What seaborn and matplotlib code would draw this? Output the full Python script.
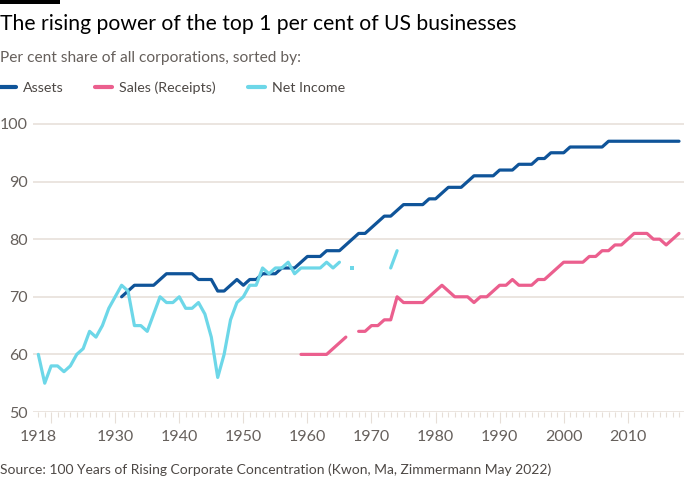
import numpy as np
import pandas as pd
import matplotlib.pyplot as plt
from matplotlib.patches import Rectangle
import seaborn as sns

nan = np.nan

# Years 1918-2018
years = list(range(1918, 2019))

# Per cent share of all corporations held by the top 1 per cent
assets = [nan] * 13 + [
    70, 71, 72, 72, 72, 72, 73, 74, 74, 74,   # 1931-1940
    74, 74, 73, 73, 73, 71, 71, 72, 73, 72,   # 1941-1950
    73, 73, 74, 74, 74, 75, 75, 75, 76, 77,   # 1951-1960
    77, 77, 78, 78, 78, 79, 80, 81, 81, 82,   # 1961-1970
    83, 84, 84, 85, 86, 86, 86, 86, 87, 87,   # 1971-1980
    88, 89, 89, 89, 90, 91, 91, 91, 91, 92,   # 1981-1990
    92, 92, 93, 93, 93, 94, 94, 95, 95, 95,   # 1991-2000
    96, 96, 96, 96, 96, 96, 97, 97, 97, 97,   # 2001-2010
    97, 97, 97, 97, 97, 97, 97, 97,           # 2011-2018
]

sales = [nan] * 41 + [
    60, 60,                                   # 1959-1960
    60, 60, 60, 61, 62, 63, nan, 64, 64, 65,  # 1961-1970
    65, 66, 66, 70, 69, 69, 69, 69, 70, 71,   # 1971-1980
    72, 71, 70, 70, 70, 69, 70, 70, 71, 72,   # 1981-1990
    72, 73, 72, 72, 72, 73, 73, 74, 75, 76,   # 1991-2000
    76, 76, 76, 77, 77, 78, 78, 79, 79, 80,   # 2001-2010
    81, 81, 81, 80, 80, 79, 80, 81,           # 2011-2018
]

net_income = [
    60, 55, 58, 58, 57, 58, 60, 61, 64, 63, 65, 68,   # 1918-1929
    70, 72, 71, 65, 65, 64, 67, 70, 69, 69,           # 1930-1939
    70, 68, 68, 69, 67, 63, 56, 60, 66, 69,           # 1940-1949
    70, 72, 72, 75, 74, 75, 75, 76, 74, 75,           # 1950-1959
    75, 75, 75, 76, 75, 76, nan, 75, nan, nan,        # 1960-1969
    nan, nan, nan, 75, 78,                            # 1970-1974
] + [nan] * 44

series_names = ["Assets", "Sales (Receipts)", "Net Income"]
colors = ["#0f5499", "#eb5f8e", "#6dd7e8"]

title = "The rising power of the top 1 per cent of US businesses"
subtitle = "Per cent share of all corporations, sorted by:"
source = "Source: 100 Years of Rising Corporate Concentration (Kwon, Ma, Zimmermann May 2022)"

label_years = [1918, 1930, 1940, 1950, 1960, 1970, 1980, 1990, 2000, 2010]

# Long table, with a segment id so gaps stay gaps
frames = []
for name, vals in zip(series_names, [assets, sales, net_income]):
    d = pd.DataFrame({"year": years, "value": vals})
    d["series"] = name
    d["segment"] = d["value"].isna().cumsum()
    d = d.dropna()
    d["segment"] = name + "_" + d["segment"].astype(str)
    frames.append(d)
df = pd.concat(frames, ignore_index=True)
seg_size = df.groupby("segment")["year"].transform("size")
lonely = df[seg_size == 1]

sns.set_style("white")
plt.rcParams["font.family"] = ["Lato", "DejaVu Sans"]

fig = plt.figure(figsize=(7, 5), dpi=100)
ax = fig.add_axes([33 / 700, 0.176, (684 - 33) / 700, 0.7636 - 0.176])

palette = dict(zip(series_names, colors))
sns.lineplot(data=df, x="year", y="value", hue="series", hue_order=series_names,
             units="segment", estimator=None, palette=palette, linewidth=2.3,
             ax=ax, zorder=3)
sns.scatterplot(data=lonely, x="year", y="value", hue="series", palette=palette,
                marker="s", s=5, linewidth=0, legend=False, ax=ax, zorder=3)

handles, labels = ax.get_legend_handles_labels()
ax.get_legend().remove()

ax.set_xlim(1917.17, 2018.78)
ax.set_ylim(50, 101)
ax.set_xlabel("")
ax.set_ylabel("")
for s in ax.spines.values():
    s.set_visible(False)

grid_col = "#e6ded7"
ax.set_yticks([50, 60, 70, 80, 90, 100])
ax.grid(axis="y", color=grid_col, linewidth=1.1, zorder=0)
ax.grid(axis="x", visible=False)
ax.tick_params(axis="y", length=0, pad=4, labelsize=11.5, labelcolor="#66605c")

major = [1918] + list(range(1920, 2020, 10))
ax.set_xticks(major)
ax.set_xticklabels([str(y) if y in label_years else "" for y in major])
ax.set_xticks(years, minor=True)
ax.tick_params(axis="x", which="both", bottom=True)
ax.tick_params(axis="x", which="major", length=8, width=0.8, color=grid_col,
               pad=5, labelsize=11.5, labelcolor="#66605c")
ax.tick_params(axis="x", which="minor", length=3.6, width=0.8, color=grid_col)
ax.xaxis.get_major_ticks()[0].tick1line.set_markersize(3.6)

fig.legend(handles, labels, loc="center left", bbox_to_anchor=(-0.002, 1 - 88 / 500),
           ncol=3, frameon=False, fontsize=10.3, handlelength=1.2,
           handletextpad=0.5, columnspacing=2.2, borderpad=0, borderaxespad=0,
           labelcolor="#4d4845")
for h in fig.legends[0].legend_handles:
    h.set_linewidth(3)

fig.text(0, 1 - 24 / 500, title, fontsize=15.2, color="#000000", va="center", ha="left")
fig.text(0, 1 - 58 / 500, subtitle, fontsize=11.2, color="#66605c", va="center", ha="left")
fig.text(0, 1 - 470 / 500, source, fontsize=10, color="#4d4845", va="center", ha="left")
fig.patches.append(Rectangle((0, 1 - 4 / 500), 60 / 700, 4 / 500, transform=fig.transFigure,
                             facecolor="black", edgecolor="none"))

fig.savefig("out.png", dpi=100, facecolor="white")
